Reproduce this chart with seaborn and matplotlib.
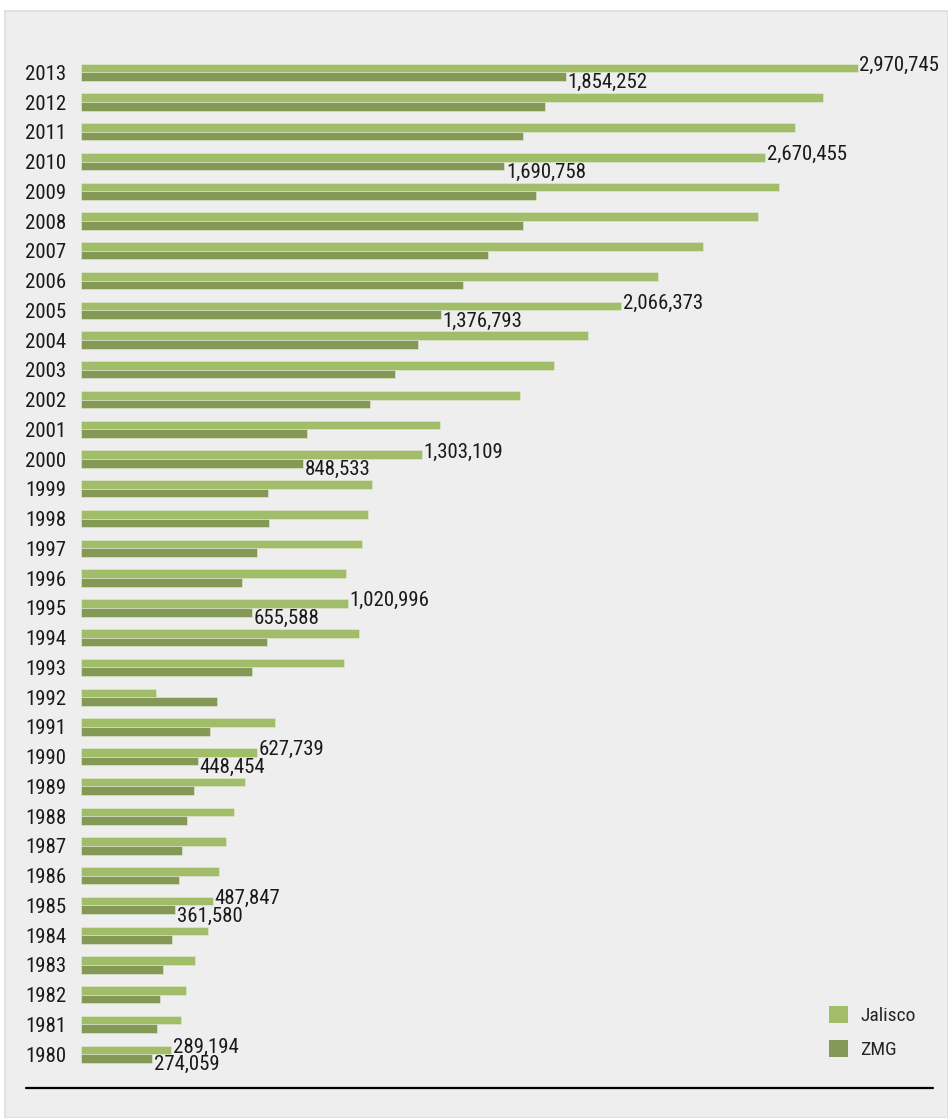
import matplotlib
matplotlib.use("Agg")
import matplotlib.pyplot as plt
from matplotlib.patches import Rectangle, Patch
from matplotlib.lines import Line2D
import seaborn as sns
import pandas as pd

# ---------------- data ----------------
years = list(range(2013, 1979, -1))
jalisco = [2970745, 2838000, 2730000, 2616000, 2670000, 2588000, 2378000, 2206000,
           2066373, 1938000, 1810000, 1679000, 1374000, 1303109, 1114000, 1097000,
           1074000, 1015000, 1020996, 1065000, 1005000, 287000, 741000, 673000,
           627000, 586000, 555000, 527000, 504000, 487000, 437000, 400000,
           381000, 345000]
zmg = [1854252, 1775000, 1689000, 1619000, 1739000, 1689000, 1556000, 1460000,
       1376793, 1289000, 1202000, 1107000, 864000, 848533, 715000, 719000,
       674000, 615000, 655588, 710000, 655000, 519000, 492000, 446000,
       432000, 405000, 387000, 374000, 360000, 347000, 315000, 301000,
       291000, 273000]
series_names = ["Jalisco", "ZMG"]
label_years = [2013, 2010, 2005, 2000, 1995, 1990, 1985, 1980]
jalisco_labels = ["2,970,745", "2,670,455", "2,066,373", "1,303,109",
                  "1,020,996", "627,739", "487,847", "289,194"]
zmg_labels = ["1,854,252", "1,690,758", "1,376,793", "848,533",
              "655,588", "448,454", "361,580", "274,059"]

colors = ["#a2bd6a", "#839955"]
FONT = ["Roboto Condensed", "DejaVu Sans"]

# ---------------- figure ----------------
sns.set_theme(style="white")
plt.rcParams["font.family"] = FONT

W, H = 948, 1118
fig = plt.figure(figsize=(W / 100, H / 100), dpi=100)
fig.patch.set_facecolor("white")
fig.patches.append(Rectangle((5 / W, 0), 1 - 5 / W, 1 - 11 / H,
                             transform=fig.transFigure, facecolor="#eeeeee",
                             edgecolor="#dddddd", linewidth=1.2, zorder=-5))

ax_left, ax_right, ax_top, ax_bottom = 81, 930, 30, 1080
ax = fig.add_axes([ax_left / W, 1 - ax_bottom / H,
                   (ax_right - ax_left) / W, (ax_bottom - ax_top) / H])
ax.set_facecolor("none")
ax.set_zorder(2)

df = pd.DataFrame({
    "year": [str(y) for y in years] * 2,
    "value": jalisco + zmg,
    "series": [series_names[0]] * len(years) + [series_names[1]] * len(years),
})
order = [str(y) for y in years]
sns.barplot(data=df, x="value", y="year", hue="series", order=order,
            hue_order=series_names, palette=colors, saturation=1,
            width=0.58, orient="h", ax=ax, legend=False,
            edgecolor="#e4ebd6", linewidth=0.4)

units_per_px = 2970745 / 776.7
ax.set_xlim(0, (ax_right - ax_left) * units_per_px)
ppu = 29.75
ax.set_ylim(33 + (ax_bottom - 1054.2) / ppu, -(72.3 - ax_top) / ppu)

for s in ax.spines.values():
    s.set_visible(False)
ax.set_xticks([])
ax.set_xlabel("")
ax.set_ylabel("")
ax.tick_params(axis="y", length=0, pad=10.5, labelsize=15, labelcolor="#1a1a1a")
for t in ax.get_yticklabels():
    t.set_fontfamily(FONT)

# value labels
for ci, labels, dy in [(0, jalisco_labels, 2), (1, zmg_labels, -4.5)]:
    cont = ax.containers[ci]
    for yr, txt in zip(label_years, labels):
        p = cont.patches[order.index(str(yr))]
        yc = p.get_y() + p.get_height() / 2
        ax.annotate(txt, (p.get_width(), yc), xytext=(1.2, dy),
                    textcoords="offset points", ha="left", va="center",
                    fontsize=15, color="#1a1a1a", family=FONT,
                    annotation_clip=False)

# bottom rule
fig.add_artist(Line2D([26 / W, 933 / W], [1 - 1087.7 / H] * 2,
                      transform=fig.transFigure, color="black", linewidth=1.6))

# legend
handles = [Patch(facecolor=c, edgecolor="none") for c in colors]
fig.legend(handles, series_names, loc="upper left",
           bbox_to_anchor=(829 / W, 1 - 1006 / H), frameon=False,
           handlelength=1.0, handleheight=1.0,
           handletextpad=0.6, labelspacing=0.75, borderpad=0,
           borderaxespad=0, prop={"family": FONT, "size": 14})

fig.savefig("out.png", dpi=100)
